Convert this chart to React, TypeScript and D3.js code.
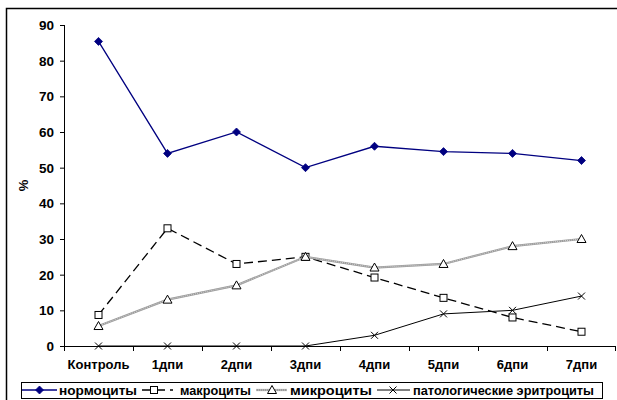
import React from "react";
import * as d3 from "d3";

const categories = ["Контроль", "1дпи", "2дпи", "3дпи", "4дпи", "5дпи", "6дпи", "7дпи"];
const normocytes = [85.4, 54, 60, 50, 56, 54.5, 54, 52];
const macrocytes = [8.7, 33, 23, 25, 19.2, 13.5, 8, 4];
const microcytes = [5.6, 13, 17, 25, 22, 23, 28, 30];
const pathological = [0, 0, 0, 0, 3, 9, 10, 14];
const yTicks = [0, 10, 20, 30, 40, 50, 60, 70, 80, 90];
const seriesNames = ["нормоциты", "макроциты", "микроциты", "патологические эритроциты"];
const yLabel = "%";

const W = 617;
const H = 400;
const font = "'Liberation Sans', Arial, sans-serif";

function Marker({ kind, x, y }: { kind: string; x: number; y: number }) {
  if (kind === "diamond") {
    const s = 4;
    return <path d={`M${x},${y - s}L${x + s},${y}L${x},${y + s}L${x - s},${y}Z`} fill="#000080" stroke="#000080" strokeWidth={0.8} />;
  }
  if (kind === "square") {
    return <rect x={x - 3.5} y={y - 3.5} width={7} height={7} fill="#fff" stroke="#000" strokeWidth={1} />;
  }
  if (kind === "triangle") {
    return <path d={`M${x},${y - 4.5}L${x + 4.5},${y + 3.5}L${x - 4.5},${y + 3.5}Z`} fill="#fff" stroke="#000" strokeWidth={1} />;
  }
  const s = 3.5;
  return <path d={`M${x - s},${y - s}L${x + s},${y + s}M${x - s},${y + s}L${x + s},${y - s}`} stroke="#000" strokeWidth={1} fill="none" />;
}

export default function App() {
  const x = d3.scaleBand<string>().domain(categories).range([64, 616]);
  const y = d3.scaleLinear().domain([0, 90]).range([346, 25]);
  const cx = (c: string) => (x(c) as number) + x.bandwidth() / 2;
  const line = d3
    .line<number>()
    .x((_, i) => cx(categories[i]))
    .y((v) => y(v));

  const series = [
    { name: seriesNames[0], data: normocytes, marker: "diamond" },
    { name: seriesNames[1], data: macrocytes, marker: "square" },
    { name: seriesNames[2], data: microcytes, marker: "triangle" },
    { name: seriesNames[3], data: pathological, marker: "x" },
  ];

  const renderLine = (i: number, d: string) => {
    if (i === 0) return <path d={d} fill="none" stroke="#000080" strokeWidth={1.3} />;
    if (i === 1) return <path d={d} fill="none" stroke="#000" strokeWidth={1.3} strokeDasharray="9 5" />;
    if (i === 2)
      return (
        <g>
          <path d={d} fill="none" stroke="#9a9a9a" strokeWidth={2.2} />
          <path d={d} fill="none" stroke="#e0e0e0" strokeWidth={0.8} strokeDasharray="1 1" />
        </g>
      );
    return <path d={d} fill="none" stroke="#000" strokeWidth={1} />;
  };

  const legendItems = [
    { x1: 22, x2: 57, mx: 39.5, tx: 59, tw: 78 },
    { x1: 142, x2: 173, mx: 154, tx: 180, tw: 71 },
    { x1: 256, x2: 287, mx: 272, tx: 290, tw: 82 },
    { x1: 377, x2: 410, mx: 393, tx: 413, tw: 181 },
  ];
  const ly = 390;

  return (
    <svg width={W} height={H} style={{ position: "absolute", left: 0, top: 0, background: "#fff" }} fontFamily={font}>
      <rect x={0} y={0} width={W} height={H} fill="#fff" />
      {/* outer frame */}
      <path d={`M6.5,${H}V8.5H${W}`} fill="none" stroke="#000" strokeWidth={1.5} />

      {/* y axis */}
      <line x1={64.5} x2={64.5} y1={y(90)} y2={y(0)} stroke="#000" strokeWidth={1} />
      {yTicks.map((t) => (
        <g key={t}>
          <line x1={60} x2={64.5} y1={y(t) + 0.5} y2={y(t) + 0.5} stroke="#000" />
          <text x={54} y={y(t) + 5} textAnchor="end" fontSize={13.5} fontWeight="bold" fill="#000">
            {t}
          </text>
        </g>
      ))}
      <text transform={`translate(28,${(y(0) + y(90)) / 2}) rotate(-90)`} textAnchor="middle" fontSize={13} fontWeight="bold">
        {yLabel}
      </text>

      {/* x axis */}
      <line x1={64} x2={616} y1={346.5} y2={346.5} stroke="#000" strokeWidth={1} />
      {categories.map((c) => (
        <g key={c}>
          <line x1={(x(c) as number) + 0.5} x2={(x(c) as number) + 0.5} y1={346.5} y2={351} stroke="#000" />
          <text x={cx(c)} y={369} textAnchor="middle" fontSize={13} fontWeight="bold">
            {c}
          </text>
        </g>
      ))}
      <line x1={615.5} x2={615.5} y1={346.5} y2={351} stroke="#000" />

      {/* series */}
      {series.map((s, i) => (
        <g key={s.name}>
          {renderLine(i, line(s.data) as string)}
          {s.data.map((v, j) => (
            <Marker key={j} kind={s.marker} x={cx(categories[j])} y={y(v)} />
          ))}
        </g>
      ))}

      {/* legend */}
      <rect x={21.5} y={382.5} width={581} height={16} fill="#fff" stroke="#000" strokeWidth={1} />
      {series.map((s, i) => {
        const it = legendItems[i];
        const d = `M${it.x1},${ly}L${it.x2},${ly}`;
        return (
          <g key={s.name}>
            {renderLine(i, d)}
            <Marker kind={s.marker} x={it.mx} y={ly} />
            <text x={it.tx} y={ly + 5} fontSize={13.5} fontWeight="bold" textLength={it.tw} lengthAdjust="spacingAndGlyphs">
              {s.name}
            </text>
          </g>
        );
      })}
    </svg>
  );
}
